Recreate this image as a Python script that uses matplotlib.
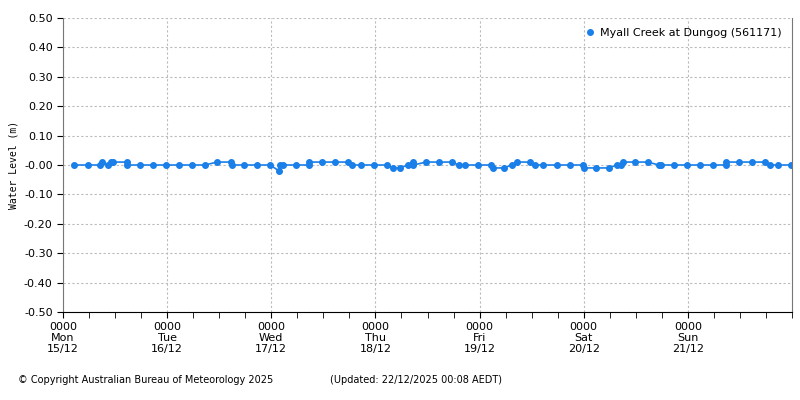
import numpy as np
import matplotlib.pyplot as plt
from matplotlib.lines import Line2D

# hours since Mon 15/12 00:00
hours = [2.5, 5.8, 8.5, 9.0, 10.4, 11.1, 11.5, 14.7, 14.8, 17.7, 20.7, 23.7, 26.7, 29.7,
         32.7, 35.5, 38.7, 38.9, 41.7, 44.7, 47.7, 49.8, 49.9, 50.7, 53.7, 56.7, 56.7,
         59.7, 62.7, 65.7, 66.6, 68.7, 71.7, 74.7, 76.0, 77.6, 79.5, 80.6, 80.7, 83.7,
         86.6, 89.6, 91.2, 92.6, 95.6, 98.6, 99.0, 101.6, 103.4, 104.6, 107.6, 108.7,
         110.6, 113.8, 116.8, 119.8, 120.0, 122.8, 125.8, 127.6, 128.6, 129.0, 131.8,
         134.8, 137.3, 137.8, 140.8, 143.8, 146.8, 149.8, 152.8, 152.8, 155.8, 158.7,
         161.7, 162.9, 164.7, 167.7]
level = [0, 0, 0, 0.01, 0, 0.01, 0.01, 0.01, 0, 0, 0, 0, 0, 0,
         0, 0.01, 0.01, 0, 0, 0, 0, -0.02, 0, 0, 0, 0, 0.01,
         0.01, 0.01, 0.01, 0, 0, 0, 0, -0.01, -0.01, 0, 0.01, 0, 0.01,
         0.01, 0.01, 0, 0, 0, 0, -0.01, -0.01, 0, 0.01, 0.01, 0,
         0, 0, 0, 0, -0.01, -0.01, -0.01, 0, 0, 0.01, 0.01,
         0.01, 0, 0, 0, 0, 0, 0, 0, 0.01, 0.01, 0.01,
         0.01, 0, 0, 0]
day_labels = ['0000\nMon\n15/12', '0000\nTue\n16/12', '0000\nWed\n17/12', '0000\nThu\n18/12',
              '0000\nFri\n19/12', '0000\nSat\n20/12', '0000\nSun\n21/12']

plt.rcParams['font.family'] = 'DejaVu Sans'
fig = plt.figure(figsize=(8, 4), dpi=100)
ax = fig.add_axes([63/800, 88/400, 729/800, 294/400])
col = '#1a7fe8'
ax.plot(hours, level, color=col, lw=1.2, marker='o', ms=4)
ax.set_xlim(0, 168)
ax.set_ylim(-0.5, 0.5)
ax.set_yticks(np.arange(-0.5, 0.51, 0.1))
ax.set_yticklabels(['%.2f' % v for v in np.arange(-0.5, 0.51, 0.1)], fontsize=8)
ax.set_xticks(np.arange(0, 168, 24))
ax.set_xticklabels(day_labels, fontsize=8, linespacing=1.1)
ax.set_xticks(np.arange(0, 169, 6), minor=True)
ax.tick_params(which='both', direction='out', length=4)
ax.grid(True, color='#bbbbbb', ls=(0, (2, 2)), lw=0.8)
ax.spines['top'].set_visible(False)
ax.spines['left'].set_color('#777777')
ax.spines['right'].set_color('#777777')
ax.set_ylabel('Water Level (m)', fontsize=7, family='monospace')
h = Line2D([], [], color=col, marker='o', ms=4, ls='none')
ax.legend([h], ['Myall Creek at Dungog (561171)'], loc='upper right', frameon=False,
          fontsize=8, handlelength=0.8, handletextpad=0.5)
fig.text(18/800, 1 - 380/400, '© Copyright Australian Bureau of Meteorology 2025', fontsize=7, va='center')
fig.text(330/800, 1 - 380/400, '(Updated: 22/12/2025 00:08 AEDT)', fontsize=7, va='center')
fig.savefig('out.png')
